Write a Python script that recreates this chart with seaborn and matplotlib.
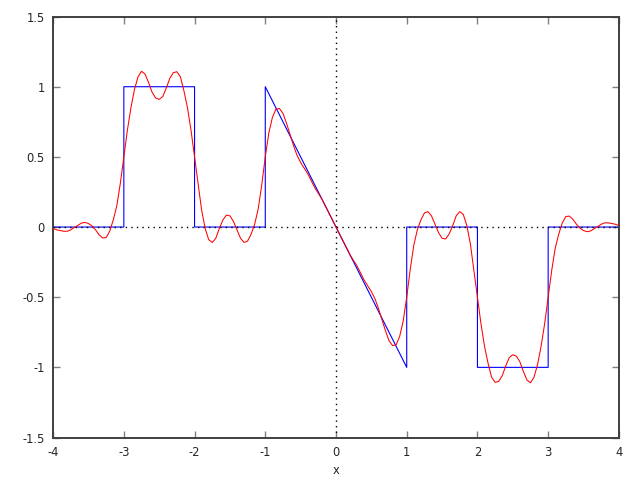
import numpy as np
import pandas as pd
import seaborn as sns
import matplotlib.pyplot as plt

# blue: the original piecewise function (corners)
blue_x = [-4, -3, -3, -2, -2, -1, -1, 1, 1, 2, 2, 3, 3, 4]
blue_y = [0, 0, 1, 1, 0, 0, 1, -1, 0, 0, -1, -1, 0, 0]

# red: smooth approximation, values estimated every 0.05 along x
red_x = [round(-4 + 0.05 * i, 2) for i in range(161)]
red_y = [
    -0.01, -0.02, -0.025, -0.03, -0.03, -0.02, -0.003, 0.012, 0.028, 0.033,
    0.025, 0.008, -0.02, -0.055, -0.078, -0.075, -0.03, 0.05, 0.15, 0.31,
    0.5, 0.69, 0.85, 0.98, 1.07, 1.11, 1.09, 1.03, 0.96, 0.92,
    0.91, 0.93, 0.99, 1.06, 1.10, 1.107, 1.07, 0.97, 0.85, 0.69,
    0.5, 0.31, 0.12, -0.01, -0.09, -0.11, -0.08, -0.01, 0.05, 0.085,
    0.08, 0.04, -0.02, -0.08, -0.11, -0.10, -0.05, 0.02, 0.13, 0.30,
    0.5, 0.67, 0.78, 0.84, 0.845, 0.81, 0.74, 0.66, 0.58, 0.51,
    0.46, 0.42, 0.38, 0.33, 0.28, 0.24, 0.20, 0.15, 0.10, 0.05,
    0.0,
    -0.05, -0.10, -0.15, -0.20, -0.24, -0.28, -0.33, -0.38, -0.42, -0.46,
    -0.51, -0.58, -0.66, -0.74, -0.81, -0.845, -0.84, -0.78, -0.67, -0.5,
    -0.30, -0.13, -0.02, 0.05, 0.10, 0.11, 0.08, 0.02, -0.04, -0.08,
    -0.085, -0.05, 0.01, 0.08, 0.11, 0.09, 0.01, -0.12, -0.31, -0.5,
    -0.69, -0.85, -0.97, -1.07, -1.107, -1.10, -1.06, -0.99, -0.93, -0.91,
    -0.92, -0.96, -1.03, -1.09, -1.11, -1.07, -0.98, -0.85, -0.69, -0.5,
    -0.31, -0.15, -0.05, 0.03, 0.075, 0.078, 0.055, 0.02, -0.008, -0.025,
    -0.033, -0.028, -0.012, 0.003, 0.02, 0.03, 0.03, 0.025, 0.02, 0.01,
]

blue_df = pd.DataFrame({'x': blue_x, 'y': blue_y})
red_df = pd.DataFrame({'x': red_x, 'y': red_y})

sns.set_style('ticks')
plt.rcParams['font.family'] = ['DejaVu Sans']

fig = plt.figure(figsize=(6.4, 4.8), dpi=100)
ax = fig.add_axes([0.083, 0.0885, 0.884, 0.877])

sns.lineplot(data=blue_df, x='x', y='y', ax=ax, color='#0000ff', lw=0.8,
             estimator=None, sort=False, zorder=2)
ax.axhline(0, color='black', lw=1, ls=(0, (1, 3)), zorder=2.5)
ax.axvline(0, color='black', lw=1, ls=(0, (1, 3)), zorder=2.5)
sns.lineplot(data=red_df, x='x', y='y', ax=ax, color='#ff0000', lw=0.75,
             estimator=None, sort=False, zorder=3)

ax.set_xlim(-4, 4)
ax.set_ylim(-1.5, 1.5)
ax.set_xticks(np.arange(-4, 5, 1))
ax.set_yticks(np.arange(-1.5, 1.6, 0.5))
ax.set_xticklabels([str(v) for v in range(-4, 5)])
ax.set_yticklabels(['-1.5', '-1', '-0.5', '0', '0.5', '1', '1.5'])
ax.tick_params(direction='in', length=5, width=1, color='#808080',
               top=True, right=True, labelsize=8.3, pad=6)
for s in ax.spines.values():
    s.set_color('#404040')
    s.set_linewidth(1.4)
ax.set_xlabel('x', fontsize=8.3, labelpad=4)
ax.set_ylabel('')

plt.savefig('out.png', dpi=100)
